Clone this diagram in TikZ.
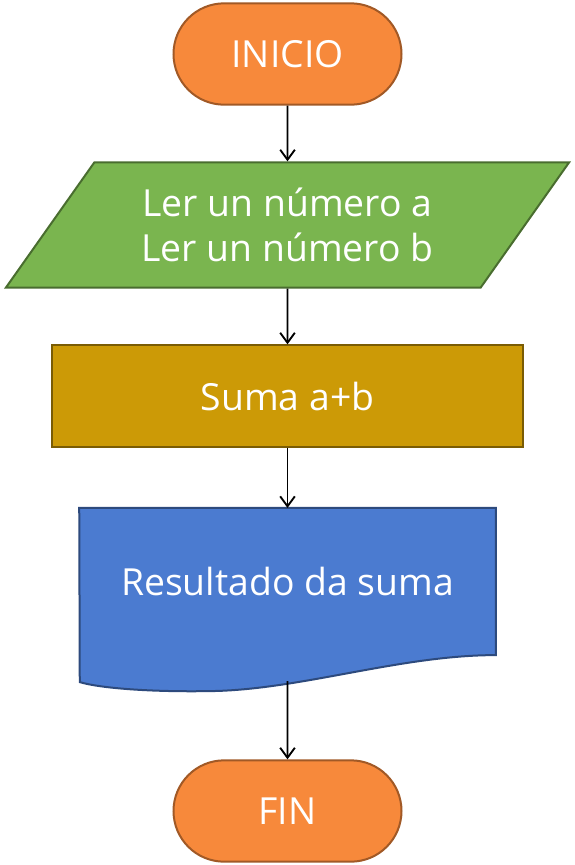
\documentclass[tikz,border=0pt]{standalone}
\usepackage{fontspec}
\setmainfont{Open Sans}
\usetikzlibrary{shapes.geometric,shapes.misc,arrows.meta,positioning,backgrounds}
\definecolor{inicioorange}{HTML}{F7893B}
\definecolor{lergreen}{HTML}{7AB54F}
\definecolor{sumagold}{HTML}{CC9A06}
\definecolor{resblue}{HTML}{4B7BD0}
\begin{document}
\begin{tikzpicture}[x=0.75pt,y=-0.75pt,node distance=3cm,on grid,
   >={Straight Barb[length=7.5pt,width=11pt]},
   flowtext/.style={text=white,font=\fontsize{28}{34}\selectfont,align=center,inner sep=0pt},
   terminal/.style={flowtext,rounded rectangle,fill=inicioorange,draw=inicioorange!65!black,line width=1.5pt,
      minimum width=171pt,minimum height=76pt},
   inout/.style={flowtext,trapezium,trapezium stretches=true,trapezium left angle=48,trapezium right angle=132,
      fill=lergreen,draw=lergreen!60!black,line width=1.5pt,minimum width=423pt,minimum height=94pt},
   process/.style={flowtext,rectangle,fill=sumagold,draw=sumagold!60!black,line width=1.5pt,
      minimum width=353pt,minimum height=76pt},
   docbox/.style={flowtext,rectangle,minimum width=312pt,minimum height=110pt},
   flow/.style={->,draw=black,line width=1.4pt}]
   \useasboundingbox (0,0) rectangle (575,865);
   \node[terminal] (inicio) at (287.5,54) {INICIO};
   \node[inout] (ler) [below=128.25pt of inicio] {Ler un número a\\Ler un número b};
   \node[process] (suma) [below=128.25pt of ler] {Suma a+b};
   \node[docbox] (result) [below=139.125pt of suma] {Resultado da suma};
   \node[terminal] (fin) [below=172.125pt of result] {FIN};
   % document shape with wavy bottom
   \begin{scope}[on background layer]
   \fill[resblue,draw=resblue!60!black,line width=1.5pt]
      (result.north west) -- (result.north east) -- (result.south east)
      .. controls +(-96,0) and +(90,-1) .. ++(-286,36)
      .. controls +(-60,1) and +(20,6) .. ++(-130,-9) -- cycle;
   \end{scope}
   \coordinate (wavebottom) at ([yshift=-19.5pt]result.south);
   \path
    (inicio) edge[flow] (ler)
    (ler) edge[flow] (suma)
    (suma) edge[flow] (result)
    (wavebottom) edge[flow] (fin);
\end{tikzpicture}
\end{document}
